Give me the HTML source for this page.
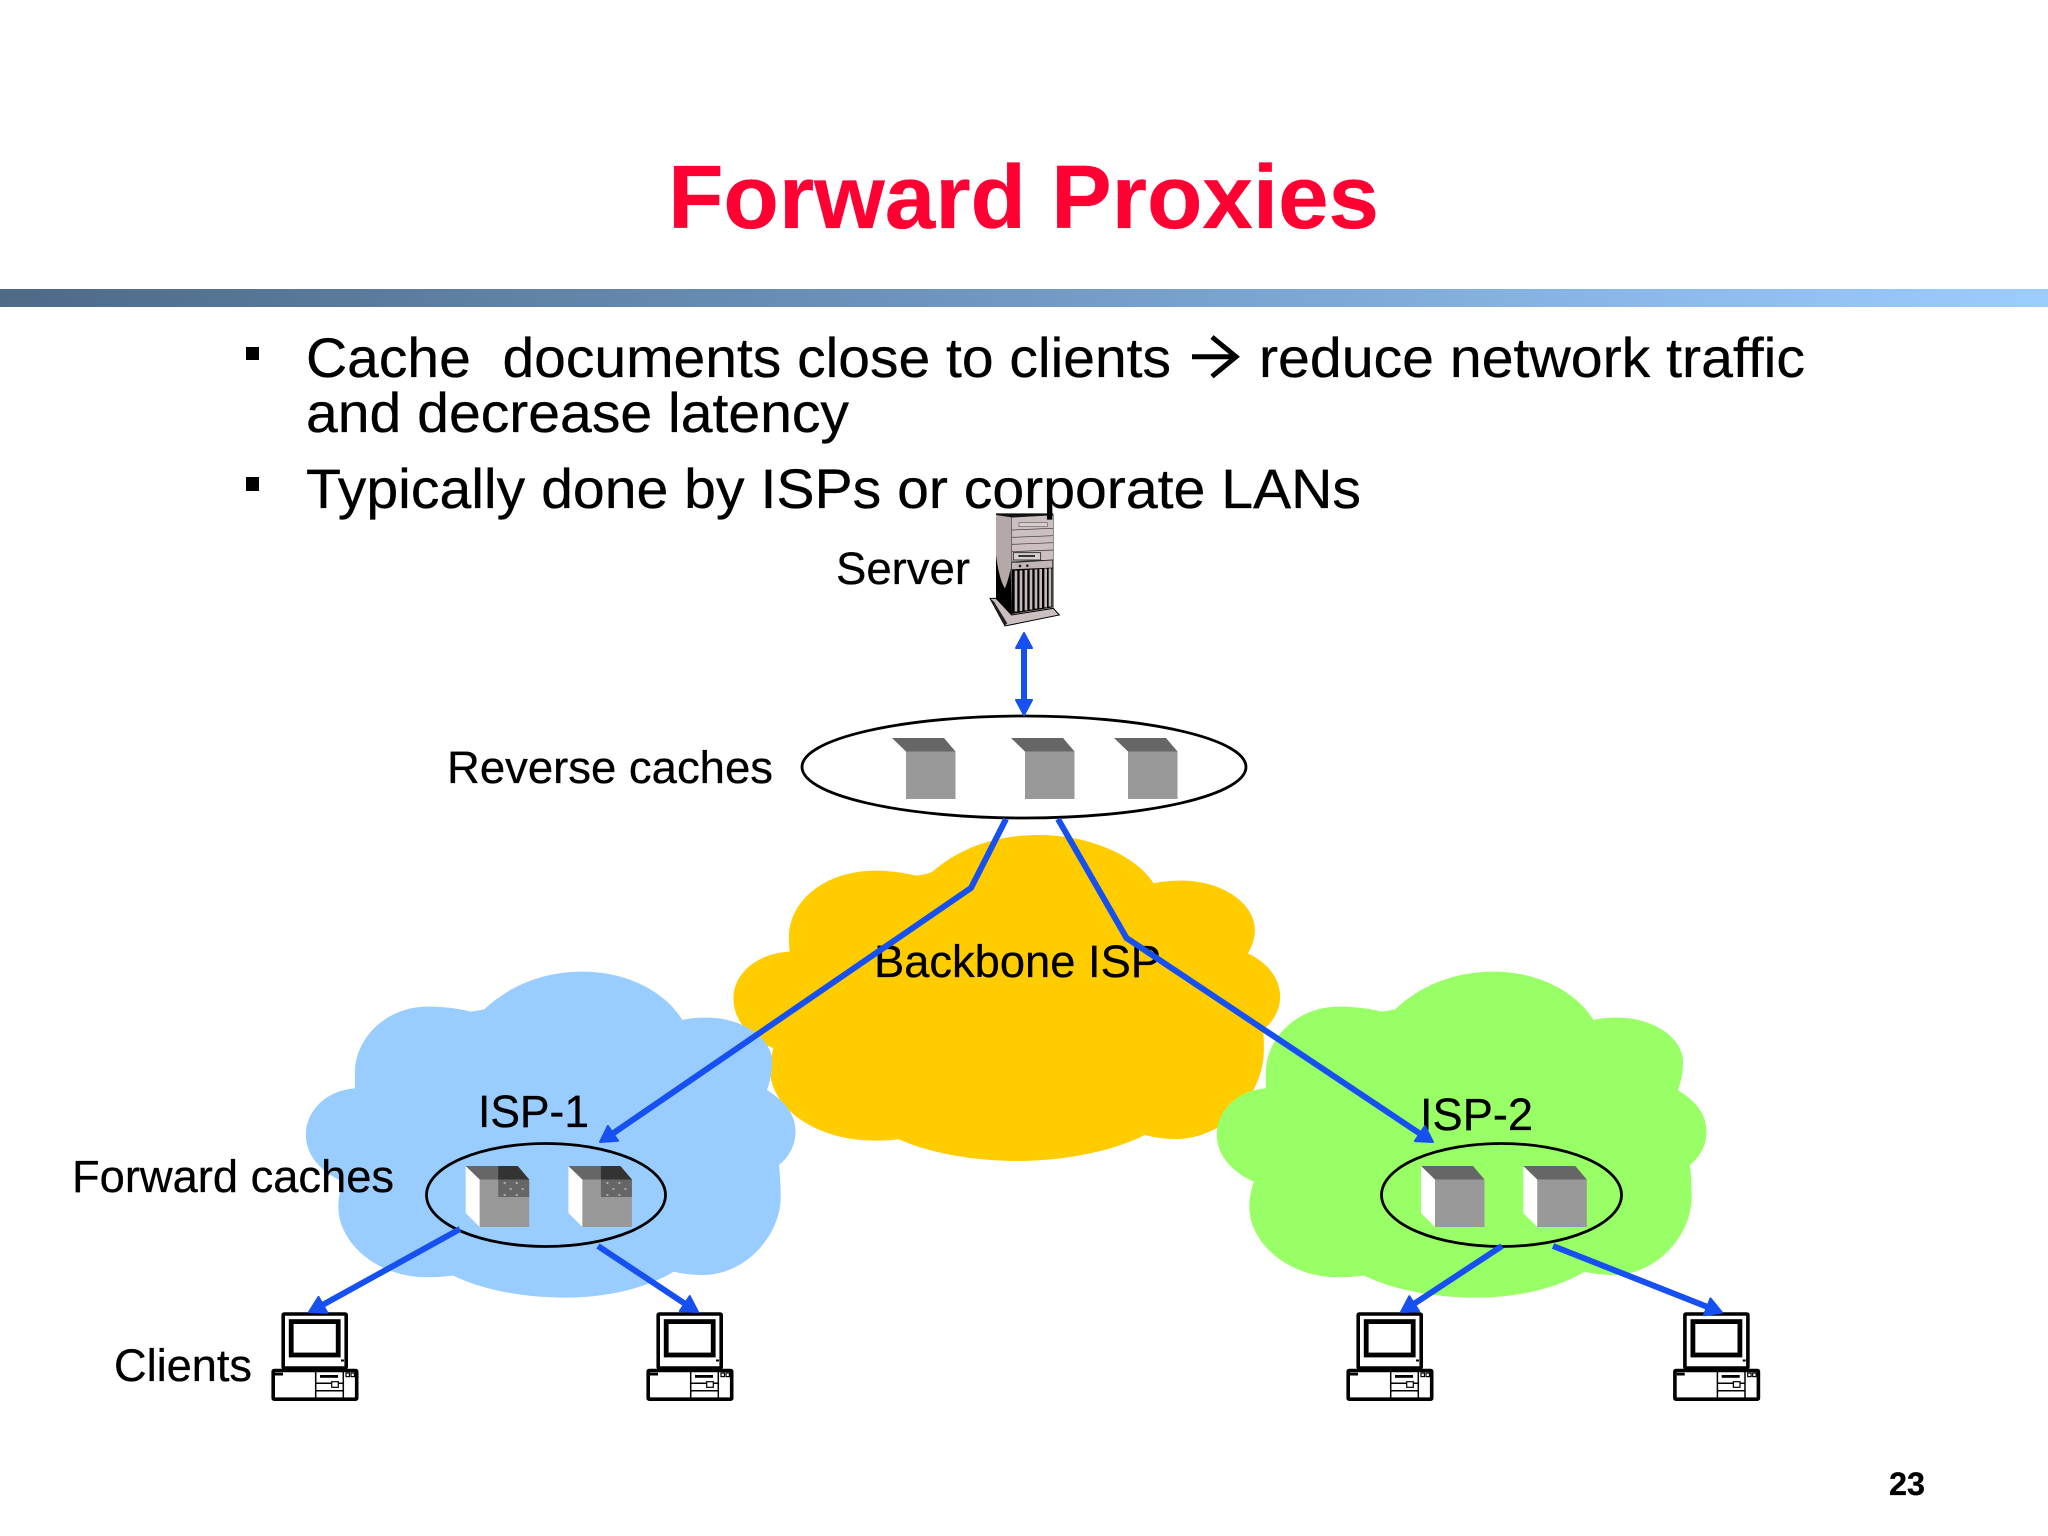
<!DOCTYPE html>
<html>
<head>
<meta charset="utf-8">
<title>Forward Proxies</title>
<style>
html,body{margin:0;padding:0;background:#fff;}
svg{display:block;}
text{font-family:"Liberation Sans",Arial,sans-serif;fill:#000;white-space:pre;stroke:#000;stroke-width:.3px;}
</style>
</head>
<body>
<svg xmlns="http://www.w3.org/2000/svg" width="2048" height="1536" viewBox="0 0 2048 1536">
<defs>
<linearGradient id="band" x1="0" x2="1" y1="0" y2="0">
<stop offset="0" stop-color="#4d6a87"/>
<stop offset=".5" stop-color="#7199c4"/>
<stop offset="1" stop-color="#9ccdff"/>
</linearGradient>
<path id="cloud" d="M595 178 C670 105 770 65 880 65 C1010 65 1120 125 1170 210 C1190 205 1215 203 1240 203 C1345 203 1430 265 1430 335 C1430 365 1425 395 1415 420 C1470 455 1498 495 1498 545 C1498 585 1480 620 1450 645 C1453 675 1455 705 1455 740 C1455 860 1350 975 1230 975 C1200 975 1170 972 1145 965 C1065 1015 950 1043 830 1043 C710 1043 590 1020 505 977 C480 980 455 982 430 982 C285 982 172 880 172 770 C172 745 177 720 185 695 C120 665 78 615 78 555 C78 480 140 420 220 415 C220 400 220 385 220 370 C220 260 315 170 430 170 C475 170 520 175 555 185 C570 183 585 180 595 178 Z"/>
<g id="box">
<polygon points="0,0 14,13.5 14,61 0,47" fill="#fff"/>
<polygon points="0,0 52,0 63.5,13.5 14,13.5" fill="#666"/>
<rect x="14" y="13.5" width="49.5" height="47.5" fill="#999"/>
</g>
<g id="dark">
<polygon points="32.5,0 52,0 63.5,13.5 32.5,13.5" fill="#333"/>
<rect x="32.5" y="13.5" width="31" height="17.5" fill="#666"/>
<g fill="#aaa">
<rect x="38" y="16" width="2" height="2"/><rect x="50" y="16" width="2" height="2"/>
<rect x="44" y="22" width="2" height="2"/><rect x="56" y="22" width="2" height="2"/>
<rect x="38" y="28" width="2" height="2"/><rect x="50" y="28" width="2" height="2"/>
</g>
</g>
<g id="pc">
<rect x="13.2" y="14" width="63" height="54" rx="1" fill="#fff" stroke="#000" stroke-width="3.6"/>
<rect x="21.2" y="21.6" width="47" height="33.4" fill="#fff" stroke="#000" stroke-width="4.8"/>
<rect x="71" y="59.5" width="3" height="2" fill="#000"/>
<rect x="3.2" y="70.5" width="83.5" height="28.7" rx="1" fill="#fff" stroke="#000" stroke-width="3.6"/>
<path d="M45.7 70V99M73.3 70V99M46 83.3H73M46 90.7H73" stroke="#000" stroke-width="1.5" fill="none"/>
<rect x="50" y="75" width="18" height="2.8" fill="#000"/>
<rect x="61.7" y="81.7" width="6.6" height="5.6" fill="#fff" stroke="#000" stroke-width="1.2"/>
<rect x="5" y="72.7" width="8" height="2.8" fill="#000"/>
<rect x="76" y="73" width="3.4" height="3.6" fill="none" stroke="#000" stroke-width="1.2"/>
<rect x="81" y="73" width="3.4" height="3.6" fill="none" stroke="#000" stroke-width="1.2"/>
</g>
</defs>

<rect width="2048" height="1536" fill="#fff"/>

<rect x="0" y="289" width="2048" height="18" fill="url(#band)"/>

<text x="668" y="228" font-size="90" font-weight="bold" style="fill:#ff0033;stroke:#ff0033" textLength="711" lengthAdjust="spacingAndGlyphs">Forward Proxies</text>

<!-- clouds -->
<path transform="translate(700,800) scale(.408,.3333)" fill="#ffcc00" d="M570 215 C640 140 730 105 830 105 C960 105 1070 170 1112 250 C1130 245 1155 242 1180 242 C1280 242 1360 310 1360 390 C1360 415 1353 440 1343 460 C1395 490 1422 540 1422 590 C1422 630 1405 665 1380 690 C1382 710 1382 730 1382 750 C1382 880 1290 1017 1165 1017 C1140 1017 1115 1013 1090 1005 C1010 1055 890 1083 780 1083 C670 1083 565 1060 487 1018 C465 1021 450 1022 430 1022 C280 1022 172 920 172 810 C172 785 175 765 180 745 C120 715 82 660 82 595 C82 520 140 460 220 455 C218 440 218 425 218 410 C218 300 310 212 430 212 C465 212 500 218 530 227 C545 225 558 222 570 215 Z"/>
<use href="#cloud" transform="translate(279,950) scale(.3448,.3333)" fill="#99ccff"/>
<use href="#cloud" transform="translate(1190,950) scale(.3448,.3333)" fill="#99ff66"/>

<!-- server -->
<g transform="translate(970,500) scale(.3333)">
<polygon points="78,40 250,40 250,50 125,54 78,48" fill="#111"/>
<polygon points="78,45 125,52 125,350 78,295" fill="#b5a8a8"/>
<path d="M78 165 C85 220 95 250 105 265 C115 240 120 215 122 205 L125 350 L78 295Z" fill="#000"/>
<polygon points="125,52 250,45 250,325 125,345" fill="#cbbfbf" stroke="#222" stroke-width="1.5"/>
<path d="M125 90L250 85M125 112L250 107M125 133L250 128M125 155L250 150M125 185L250 180" stroke="#333" stroke-width="2" fill="none"/>
<rect x="147" y="68" width="85" height="12" fill="#d8cdcd" stroke="#444" stroke-width="1.5"/>
<rect x="130" y="158" width="82" height="22" fill="#d8cdcd" stroke="#222" stroke-width="2.5"/>
<rect x="145" y="165" width="50" height="6" fill="#333"/>
<polygon points="125,188 248,180 248,205 125,210" fill="#c2b5b5" stroke="#222" stroke-width="2"/>
<circle cx="150" cy="198" r="4" fill="#222"/><circle cx="172" cy="197" r="4" fill="#222"/>
<polygon points="125,208 248,203 248,322 125,342" fill="#000"/>
<path d="M138 212V335M153 211V333M168 210V331M183 209V329M198 208V326M212 207V324M227 206V322M240 205V320" stroke="#c4b7b7" stroke-width="8" fill="none"/>
<polygon points="60,295 78,295 125,345 250,325 268,345 105,378" fill="#cbbfbf" stroke="#000" stroke-width="3"/>
<polygon points="62,297 105,376 112,370 72,305" fill="#222"/>
</g>

<!-- reverse cache ellipse -->
<ellipse cx="1024" cy="767" rx="222" ry="51" fill="#fff" stroke="#000" stroke-width="2.8"/>
<use href="#box" x="892" y="738"/>
<use href="#box" x="1011" y="738"/>
<use href="#box" x="1114" y="738"/>

<!-- forward caches -->
<ellipse cx="546" cy="1195" rx="119.5" ry="51.5" fill="none" stroke="#000" stroke-width="2.8"/>
<use href="#box" x="465.7" y="1166"/><use href="#dark" x="465.7" y="1166"/>
<use href="#box" x="568.4" y="1166"/><use href="#dark" x="568.4" y="1166"/>
<ellipse cx="1501.5" cy="1195" rx="120" ry="51.5" fill="none" stroke="#000" stroke-width="2.8"/>
<use href="#box" x="1421" y="1166"/>
<use href="#box" x="1523.3" y="1166"/>

<!-- clients -->
<use href="#pc" x="270" y="1300"/>
<use href="#pc" x="645" y="1300"/>
<use href="#pc" x="1345" y="1300"/>
<use href="#pc" x="1671.7" y="1300"/>

<!-- labels under connectors -->
<text x="874" y="977" font-size="45" textLength="287" lengthAdjust="spacingAndGlyphs">Backbone ISP</text>
<text x="1420" y="1130" font-size="45" textLength="113" lengthAdjust="spacingAndGlyphs">ISP-2</text>
<text x="478" y="1127" font-size="45" textLength="111" lengthAdjust="spacingAndGlyphs">ISP-1</text>
<text x="72" y="1192" font-size="45" textLength="322" lengthAdjust="spacingAndGlyphs">Forward caches</text>

<!-- connectors -->
<g fill="none" stroke="#1650f0" stroke-width="6">
<polyline points="1006,819 971,888 613,1133.4"/>
<polyline points="1058,819 1126.5,938 1419.9,1133.6"/>
<line x1="460" y1="1229" x2="322.9" y2="1304.8"/>
<line x1="598" y1="1246" x2="684.8" y2="1303.6"/>
<line x1="1502" y1="1246" x2="1414.2" y2="1303.7"/>
<line x1="1553" y1="1246" x2="1707.2" y2="1306.8"/>
<line x1="1024" y1="646" x2="1024" y2="702"/>
</g>
<g fill="#1650f0" stroke="#1650f0" stroke-width="2" stroke-linejoin="round">
<polygon points="600,1142 618.1,1140.8 607.9,1126"/>
<polygon points="1433,1142 1414.9,1141.1 1424.9,1126.1"/>
<polygon points="309,1312 327.3,1312.7 318.5,1296.9"/>
<polygon points="698,1312 679.8,1311.1 689.8,1296.1"/>
<polygon points="1401,1312 1419.1,1311.2 1409.3,1296.2"/>
<polygon points="1722,1312.5 1703.9,1315.2 1710.5,1298.4"/>
<polygon points="1024,633 1032,648 1016,648"/>
<polygon points="1024,715 1032,700 1016,700"/>
</g>

<!-- bullets -->
<rect x="246" y="347" width="13" height="13" fill="#000"/>
<rect x="246" y="477" width="13" height="14" fill="#000"/>
<text x="306" y="377" font-size="56" textLength="865" lengthAdjust="spacingAndGlyphs">Cache  documents close to clients</text>
<g fill="none" stroke="#000" stroke-width="5">
<line x1="1192" y1="356.7" x2="1234" y2="356.7"/>
<polyline points="1212,337 1236,356.7 1212,376.5"/>
</g>
<text x="1259" y="377" font-size="56" textLength="546" lengthAdjust="spacingAndGlyphs">reduce network traffic</text>
<text x="306" y="432" font-size="56" textLength="543" lengthAdjust="spacingAndGlyphs">and decrease latency</text>
<text x="306" y="508" font-size="56" textLength="1055" lengthAdjust="spacingAndGlyphs">Typically done by ISPs or corporate LANs</text>

<!-- side labels -->
<text x="836" y="584" font-size="45" textLength="134" lengthAdjust="spacingAndGlyphs">Server</text>
<text x="447" y="783" font-size="45" textLength="326" lengthAdjust="spacingAndGlyphs">Reverse caches</text>
<text x="114" y="1381" font-size="45" textLength="138" lengthAdjust="spacingAndGlyphs">Clients</text>
<text x="1889" y="1495" font-size="32" font-weight="bold" textLength="36" lengthAdjust="spacingAndGlyphs">23</text>
</svg>
</body>
</html>
